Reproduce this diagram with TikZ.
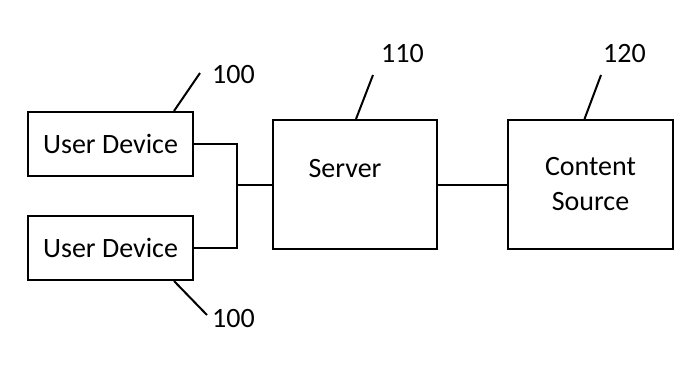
\documentclass[tikz,border=0pt]{standalone}
\usepackage{fontspec}
\setmainfont{Carlito}
\usepackage{tikz}
\usetikzlibrary{positioning}

\begin{document}
\begin{tikzpicture}[x=1pt,y=-1pt,
    box/.style={draw, line width=2pt, rectangle, inner sep=0pt, font=\fontsize{28}{35}\selectfont, align=center},
    tag/.style={font=\fontsize{28}{34}\selectfont, inner sep=0pt, anchor=west},
    wire/.style={line width=2pt}]
    \useasboundingbox (0,0) rectangle (693,375);

    % Boxes
    \node[box, minimum width=165pt, minimum height=64pt] (ud1) at (110.5,144) {User Device};
    \node[box, minimum width=165pt, minimum height=64pt] (ud2) at (110.5,248) {User Device};
    \node[box, minimum width=164pt, minimum height=129pt,
          label={[name=srvtext, font=\fontsize{28}{34}\selectfont, xshift=-10pt, yshift=16pt]center:Server}] (server) at (355,184.5) {};
    \node[box, minimum width=165pt, minimum height=129pt] (content) at (590.5,184.5) {Content\\Source};

    % Links
    \coordinate (hub) at (237,184.5);
    \draw[wire] (ud1.east) -| (hub) |- (ud2.east);
    \draw[wire] (hub) -- (server.west);
    \draw[wire] (server.east) -- (content.west);

    % Reference numerals
    \node[tag] (n100a) at (212,75) {100};
    \node[tag] (n100b) at (212,319) {100};
    \node[tag] (n110) at (381,54) {110};
    \node[tag] (n120) at (603,54) {120};
    \coordinate (p100a) at (200,73);
    \coordinate (p100b) at (207,315);
    \coordinate (p110) at (373,75);
    \coordinate (p120) at (601,75);
    \draw[wire] ([xshift=-20pt]ud1.north east) -- (p100a);
    \draw[wire] ([xshift=-20pt]ud2.south east) -- (p100b);
    \draw[wire] ([xshift=1pt]server.north) -- (p110);
    \draw[wire] ([xshift=-6pt]content.north) -- (p120);
\end{tikzpicture}
\end{document}
